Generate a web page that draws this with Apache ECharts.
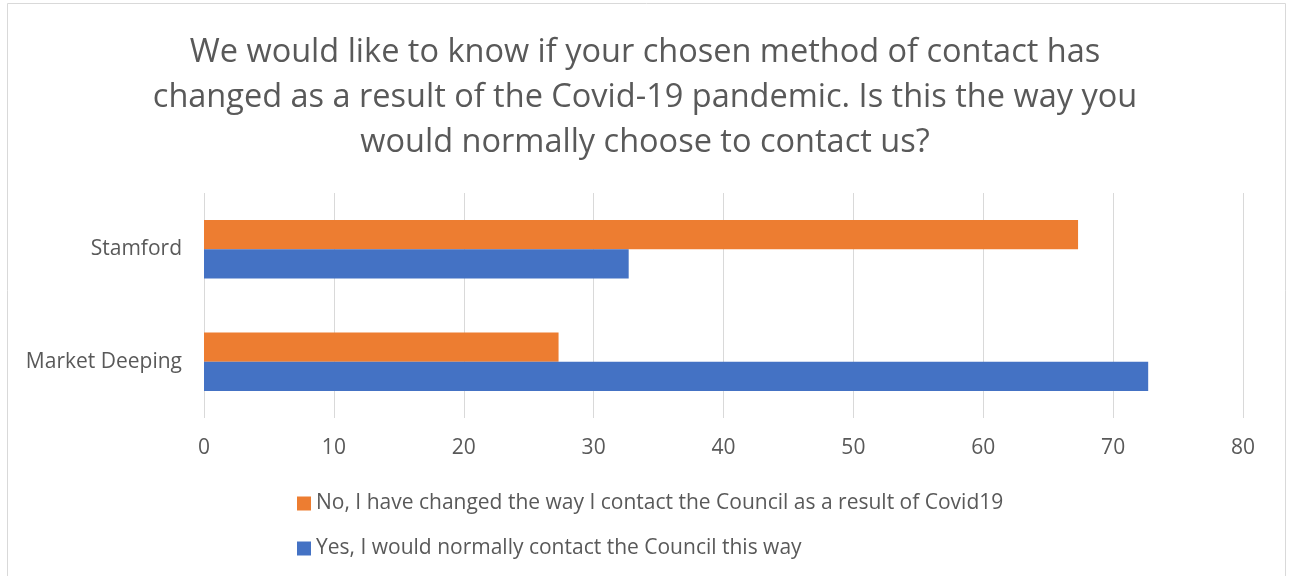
<!DOCTYPE html>
<html><head><meta charset="utf-8">
<script src="https://cdn.jsdelivr.net/npm/echarts@6/dist/echarts.min.js"></script>
<style>html,body{margin:0;padding:0;background:#fff}#c{width:1290px;height:576px}</style>
</head><body><div id="c"></div>
<script>
const categories = ['Market Deeping', 'Stamford'];
const yesValues = [72.7, 32.7];
const noValues = [27.3, 67.3];
const seriesNames = ['No, I have changed the way I contact the Council as a result of Covid19', 'Yes, I would normally contact the Council this way'];
const titleText = 'We would like to know if your chosen method of contact has\nchanged as a result of the Covid-19 pandemic. Is this the way you\nwould normally choose to contact us?';
const xTicks = {min: 0, max: 80, interval: 10};

const FONT = '"Open Sans", Lato, sans-serif';
const chart = echarts.init(document.getElementById('c'));
chart.setOption({
  animation: false,
  graphic: [{type: 'rect', shape: {x: 7.5, y: 3.5, width: 1278, height: 600}, style: {fill: 'none', stroke: '#d9d9d9', lineWidth: 1}}],
  title: {text: titleText, left: 'center', top: 25, textStyle: {fontFamily: FONT, fontSize: 32.5, fontWeight: 'normal', color: '#595959', lineHeight: 45}},
  grid: {left: 204, right: 47, top: 193, bottom: 158},
  xAxis: {type: 'value', min: xTicks.min, max: xTicks.max, interval: xTicks.interval,
    axisLine: {show: false}, axisTick: {show: false},
    splitLine: {lineStyle: {color: '#d9d9d9', width: 1}},
    axisLabel: {fontFamily: FONT, fontSize: 21, color: '#595959', margin: 20}},
  yAxis: {type: 'category', data: categories,
    axisLine: {show: false}, axisTick: {show: false},
    axisLabel: {fontFamily: FONT, fontSize: 21, color: '#595959', margin: 22}},
  legend: {orient: 'vertical', left: 292, top: 488, itemWidth: 14, itemHeight: 14, itemGap: 24, icon: 'rect',
    data: seriesNames,
    textStyle: {fontFamily: FONT, fontSize: 21, color: '#595959'}},
  series: [
    {name: seriesNames[0], type: 'bar', data: noValues, barGap: '0%', barCategoryGap: '48%', itemStyle: {color: '#ed7d31'}},
    {name: seriesNames[1], type: 'bar', data: yesValues, barGap: '0%', barCategoryGap: '48%', itemStyle: {color: '#4472c4'}}
  ]
});
</script></body></html>
